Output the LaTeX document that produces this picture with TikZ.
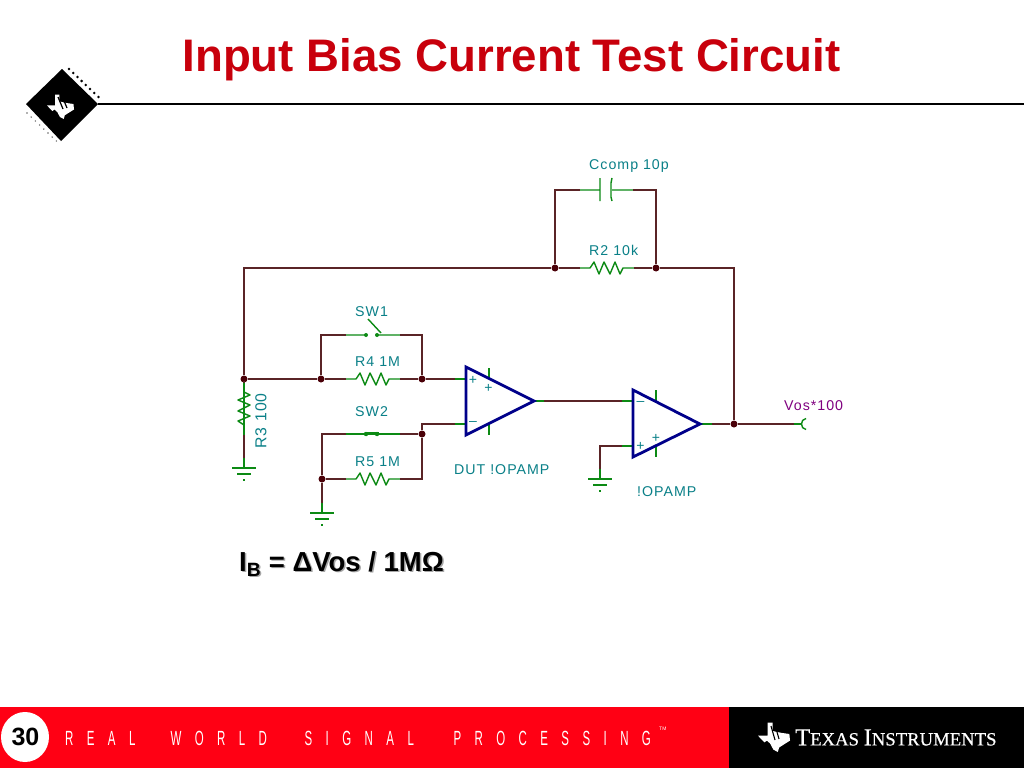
\documentclass[tikz,border=0pt]{standalone}
\usepackage{fontspec}
\setmainfont{Liberation Sans}
\newfontfamily\cirfont[LetterSpace=7]{Liberation Sans}
\newfontfamily\rwsp[LetterSpace=65.5,FakeStretch=0.56]{Liberation Sans}
\newfontfamily\tifont[FakeBold=0.5]{Liberation Serif}
\usetikzlibrary{calc}
\definecolor{wirec}{HTML}{5A2426}
\definecolor{compc}{HTML}{0C8A14}
\definecolor{dotc}{HTML}{4A0008}
\definecolor{labc}{HTML}{0A8088}
\definecolor{vosc}{HTML}{800080}
\definecolor{ampc}{HTML}{00008A}
\definecolor{titlec}{HTML}{C8000C}
\definecolor{barred}{HTML}{FF0014}
\tikzset{
 wire/.style={draw=wirec,line width=1.5pt,line join=miter},
 comp/.style={draw=compc,line width=1.4pt},
 amp/.style={draw=ampc,line width=2.8pt,line join=miter},
 dotn/.style={circle,fill=dotc,inner sep=0pt,minimum size=7pt},
 lab/.style={text=labc,font=\fontsize{14.2}{16}\selectfont\cirfont,inner sep=0pt},
 sign/.style={text=labc,font=\fontsize{14}{14}\selectfont,inner sep=0pt},
 reshz/.pic={
  \coordinate (-l) at (-27,0); \coordinate (-r) at (27,0);
  \draw[comp,line join=round] (-l)--(-17,0)--(-13,-6)--(-8,6)--(-3,-6)--(3,6)--(8,-6)--(13,6)--(16,0)--(-r);
 },
 gnd/.pic={
  \coordinate (-t) at (0,-10);
  \draw[comp] (-t)--(0,0) (-12,0)--(12,0) (-7,6)--(7,6) (-1,12)--(1,12);
 },
}
\newcommand{\txshape}{(0.30,0.02)--(0.46,0.02)--(0.46,0.30)--(0.72,0.36)--(0.98,0.40)--(1.0,0.62)--(0.85,0.72)--(0.66,0.85)--(0.62,1.0)--(0.48,0.92)--(0.38,0.72)--(0.28,0.62)--(0.2,0.68)--(0.08,0.55)--(0,0.45)--(0.30,0.45)--cycle}
\begin{document}
\begin{tikzpicture}[x=1pt,y=-1pt]
\useasboundingbox (0,0) rectangle (1024,768);
\fill[white] (0,0) rectangle (1024,768);
% title and header
\node[text=titlec,font=\fontsize{45.6}{50}\bfseries\selectfont,inner sep=0pt] (title) at (511.5,59.5) {Input Bias Current Test Circuit};
\coordinate (ruleR) at (1024,104);
\coordinate (logoR) at (98,104);
\draw[black,line width=1.5pt] (logoR)--(ruleR);
% chip logo
\fill[black] (62,69)--(logoR)--(61,141)--(26,104)--cycle;
\foreach \i in {0,...,7}{
 \fill[black] ($(69,69)+(\i*4.2,\i*4.0)$) circle (1.4pt);
 \fill[black!60] ($(27,113)+(\i*4.2,\i*4.0)$) circle (0.8pt);
}
\begin{scope}[shift={(47,94)},x=27pt,y=-25pt]
 \fill[white] \txshape;
\end{scope}
\draw[black,line width=1.2pt] (58,97)--(63,109) (62,96)--(67,108);
% footer
\fill[barred] (0,707) rectangle (729,768);
\fill[black] (729,707) rectangle (1024,768);
\fill[white] (25,737) ellipse (24pt and 25pt);
\node[font=\fontsize{25}{27}\bfseries\selectfont,inner sep=0pt] (pageno) at (25.5,737) {30};
\node[anchor=west,text=white,font=\fontsize{20.5}{22}\selectfont\rwsp,inner sep=0pt] (rwsptext) at (65,738) {REAL\hspace{18.5pt} WORLD\hspace{21pt} SIGNAL\hspace{23pt} PROCESSING};
\node[anchor=west,text=white,font=\fontsize{5}{6}\selectfont,inner sep=0pt] (tm) at (659,729) {TM};
\begin{scope}[shift={(758,722)},x=32pt,y=-30pt]
 \fill[white] \txshape;
\end{scope}
\draw[black,line width=1.1pt] (771,726)--(775,740) (775,725)--(779,739);
\node[anchor=west,text=white,font=\tifont,inner sep=0pt] (ti) at (795,737.5) {\fontsize{24.5}{26}\selectfont T\fontsize{18.7}{20}\selectfont EXAS \fontsize{24.5}{26}\selectfont I\fontsize{18.7}{20}\selectfont NSTRUMENTS};
% formula
\node[anchor=west,inner sep=0pt,font=\fontsize{27.5}{30}\bfseries\selectfont] (formula) at (239,564.5) {\rlap{\kern1.5pt\raisebox{-1.5pt}{\color{black!35}I\textsubscript{B} = ΔVos / 1MΩ}}I\textsubscript{B} = ΔVos / 1MΩ};
% junctions
\node[dotn] (jL) at (244,379) {};
\node[dotn] (j1) at (321,379) {};
\node[dotn] (j2) at (422,379) {};
\node[dotn] (j3) at (422,434) {};
\node[dotn] (j4) at (322,479) {};
\node[dotn] (jA) at (555,268) {};
\node[dotn] (jB) at (656,268) {};
\node[dotn] (jO) at (734,424) {};
% corners
\coordinate (cTL) at (244,268);
\coordinate (cTR) at (734,268);
\coordinate (cCl) at (555,190);
\coordinate (cCr) at (656,190);
\coordinate (cS1l) at (321,335);
\coordinate (cS1r) at (422,335);
\coordinate (cS2l) at (322,434);
\coordinate (cR5r) at (422,479);
\coordinate (cM) at (422,424);
\coordinate (cG2) at (600,446);
% components
\path (607,268) pic (r2) {reshz};
\path (373,379) pic (r4) {reshz};
\path (373,479) pic (r5) {reshz};
\path (244,408) pic[rotate=90] (r3) {reshz};
\path (244,468) pic (g1) {gnd};
\path (322,513) pic (g2) {gnd};
\path (600,479) pic (g3) {gnd};
% capacitor
\coordinate (cap-l) at (580,190);
\coordinate (cap-r) at (633,190);
\draw[comp] (cap-l)--(600,190) (600,178)--(600,201) (cap-r)--(612,190) (612,178)--(611,183)--(611,197)--(612,201);
% switches
\coordinate (s1-l) at (346,335);
\coordinate (s1-r) at (400,335);
\draw[comp] (s1-l)--(366,335) (s1-r)--(377,335) (368,319)--(381,333);
\fill[compc] (366,335) circle (2pt) (377,335) circle (2pt);
\coordinate (s2-l) at (346,434);
\coordinate (s2-r) at (400,434);
\draw[comp] (s2-l)--(s2-r) (366,432.5)--(379,432.5);
\fill[compc] (366,434) circle (2.2pt) (377,434) circle (2.2pt);
% op amps
\coordinate (a1) at (466,367);
\coordinate (a1b) at (466,435);
\coordinate (a1o) at (534,401);
\coordinate (a2) at (633,390);
\coordinate (a2b) at (633,457);
\coordinate (a2o) at (700,424);
\coordinate (a1p) at (466,379);
\coordinate (a1m) at (466,424);
\coordinate (a2m) at (633,401);
\coordinate (a2p) at (633,446);
\coordinate (a1ps) at (455,379);
\coordinate (a1ms) at (455,424);
\coordinate (a1os) at (544,401);
\coordinate (a2ms) at (622,401);
\coordinate (a2ps) at (622,446);
\coordinate (a2os) at (712,424);
\coordinate (v) at (794,424);
\coordinate (vt) at (801,424);
\draw[comp] (a1ps)--(a1p) (a1ms)--(a1m) (a1o)--(a1os) (a2ms)--(a2m) (a2ps)--(a2p) (a2o)--(a2os) (v)--(vt);
\draw[comp] (489,368)--(489,379) (489,424)--(489,435) (656,390)--(656,401) (656,447)--(656,457);
\draw[comp] (806,418.5) .. controls (800,419) and (800,429) .. (806,429.5);
\draw[amp] (a1)--(a1o)--(a1b)--cycle;
\draw[amp] (a2)--(a2o)--(a2b)--cycle;
% wires
\draw[wire] (jL)--(cTL)--(jA)--(r2-l);
\draw[wire] (r2-r)--(jB)--(cTR)--(jO);
\draw[wire] (jA)--(cCl)--(cap-l);
\draw[wire] (cap-r)--(cCr)--(jB);
\draw[wire] (jL)--(j1)--(r4-l);
\draw[wire] (r4-r)--(j2)--(a1ps);
\draw[wire] (j1)--(cS1l)--(s1-l);
\draw[wire] (s1-r)--(cS1r)--(j2);
\draw[wire] (j4)--(cS2l)--(s2-l);
\draw[wire] (s2-r)--(j3);
\draw[wire] (j4)--(r5-l);
\draw[wire] (r5-r)--(cR5r)--(j3);
\draw[wire] (j3)--(cM)--(a1ms);
\draw[wire] (a1os)--(a2ms);
\draw[wire] (a2os)--(jO)--(v);
\draw[wire] (a2ps)--(cG2)--(g3-t);
\draw[wire] (r3-r)--(g1-t);
\draw[wire] (j4)--(g2-t);
\draw[comp] (jL)--(r3-l);
% labels
\node[lab,anchor=west] (lc) at (589,166.5) {Ccomp 10p};
\node[lab,anchor=west] (lr2) at (589,250) {R2 10k};
\node[lab,anchor=west] (ls1) at (355,311.5) {SW1};
\node[lab,anchor=west] (lr4) at (355,361.5) {R4 1M};
\node[lab,anchor=west] (ls2) at (355,411.5) {SW2};
\node[lab,anchor=west] (lr5) at (355,461.5) {R5 1M};
\node[lab,rotate=90,anchor=east,font=\fontsize{15.8}{16}\selectfont\cirfont] (lr3) at (261,393) {R3 100};
\node[lab,anchor=west] (ld) at (454,470) {DUT !OPAMP};
\node[lab,anchor=west] (lo) at (637,492) {!OPAMP};
\node[lab,anchor=west,text=vosc] (lv) at (784,405.5) {Vos*100};
\node[sign] (p1) at (473,380) {+};
\node[sign] (p2) at (488.5,388) {+};
\node[sign] (m1) at (473,423) {–};
\node[sign] (m2) at (640.5,403) {–};
\node[sign] (p3) at (640.5,446.5) {+};
\node[sign] (p4) at (656,438) {+};
\end{tikzpicture}
\end{document}
